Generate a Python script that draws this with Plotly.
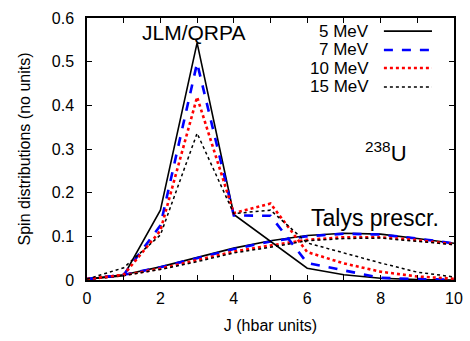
import plotly.graph_objects as go

J = [0, 1, 2, 3, 4, 5, 6, 7, 8, 9, 10]

# JLM/QRPA spin distributions
qrpa_5 = [0.002, 0.010, 0.160, 0.543, 0.150, 0.088, 0.027, 0.012, 0.004, 0.001, 0.000]
qrpa_7 = [0.002, 0.012, 0.125, 0.497, 0.148, 0.147, 0.039, 0.022, 0.005, 0.002, 0.001]
qrpa_10 = [0.002, 0.012, 0.113, 0.419, 0.153, 0.175, 0.064, 0.038, 0.019, 0.008, 0.003]
qrpa_15 = [0.002, 0.028, 0.103, 0.336, 0.152, 0.160, 0.085, 0.062, 0.039, 0.018, 0.007]

# Talys prescription spin distributions
talys_5 = [0.002, 0.012, 0.030, 0.051, 0.073, 0.090, 0.102, 0.107, 0.105, 0.095, 0.084]
talys_7 = [0.002, 0.012, 0.029, 0.050, 0.071, 0.088, 0.100, 0.106, 0.104, 0.095, 0.084]
talys_10 = [0.002, 0.011, 0.026, 0.045, 0.065, 0.079, 0.092, 0.098, 0.098, 0.091, 0.082]
talys_15 = [0.002, 0.010, 0.024, 0.042, 0.062, 0.075, 0.090, 0.095, 0.096, 0.089, 0.081]

labels = ["5 MeV", "7 MeV", "10 MeV", "15 MeV"]
styles = [
    dict(color="black", width=1.6, dash="solid"),
    dict(color="#0000ff", width=2.6, dash="dash"),
    dict(color="#ff0000", width=2.6, dash="dot"),
    dict(color="black", width=1.5, dash="dot"),
]
qrpa = [qrpa_5, qrpa_7, qrpa_10, qrpa_15]
talys = [talys_5, talys_7, talys_10, talys_15]

fig = go.Figure()
for lab, st, q, t in zip(labels, styles, qrpa, talys):
    fig.add_trace(go.Scatter(x=J, y=t, mode="lines", line=st, showlegend=False, name=lab + " Talys"))
for lab, st, q, t in zip(labels, styles, qrpa, talys):
    fig.add_trace(go.Scatter(x=J, y=q, mode="lines", line=st, showlegend=False, name=lab))

FONT = "Liberation Sans, Arial, sans-serif"

# gnuplot-style legend (text right-aligned, sample on the right)
row_y = [0.950, 0.878, 0.809, 0.737]
for lab, st, yy in zip(labels, styles, row_y):
    fig.add_annotation(x=0.774, y=yy, xref="paper", yref="paper", text=lab, showarrow=False,
                       xanchor="right", yanchor="middle", font=dict(size=17, color="black", family=FONT))
    fig.add_shape(type="line", xref="paper", yref="paper", x0=0.809, x1=0.940, y0=yy, y1=yy, line=st)

fig.add_annotation(x=0.29, y=0.943, xref="paper", yref="paper", text="JLM/QRPA", showarrow=False,
                   xanchor="center", yanchor="middle", font=dict(size=21, color="black", family=FONT))
fig.add_annotation(x=0.785, y=0.237, xref="paper", yref="paper", text="Talys prescr.", showarrow=False,
                   xanchor="center", yanchor="middle", font=dict(size=23, color="black", family=FONT))
fig.add_annotation(x=0.815, y=0.49, xref="paper", yref="paper", text="<sup>238</sup>U", showarrow=False,
                   xanchor="center", yanchor="middle", font=dict(size=22, color="black", family=FONT))

axis_common = dict(showgrid=False, zeroline=False, showline=True, linecolor="black", linewidth=1.5,
                   mirror="ticks", ticks="inside", ticklen=5, tickcolor="black", automargin=False,
                   tickfont=dict(size=16, color="black", family=FONT))
fig.update_xaxes(range=[0, 10], dtick=2, tick0=0,
                 minor=dict(dtick=1, ticks="inside", ticklen=5, tickcolor="black"),
                 ticklabelstandoff=3,
                 title=dict(text="J (hbar units)", font=dict(size=16, color="black", family=FONT), standoff=14),
                 **axis_common)
fig.update_yaxes(range=[0, 0.6], dtick=0.1, tick0=0, tickformat=".1~f",
                 ticklabelstandoff=8,
                 title=dict(text="Spin distributions (no units)", font=dict(size=16, color="black", family=FONT), standoff=17),
                 **axis_common)
fig.update_layout(width=470, height=341, margin=dict(l=87, r=16, t=18, b=61),
                  paper_bgcolor="white", plot_bgcolor="white", showlegend=False)
fig.write_html("out.html", config={"displayModeBar": False},
               post_script="document.body.style.margin='0';document.body.style.padding='0';")
